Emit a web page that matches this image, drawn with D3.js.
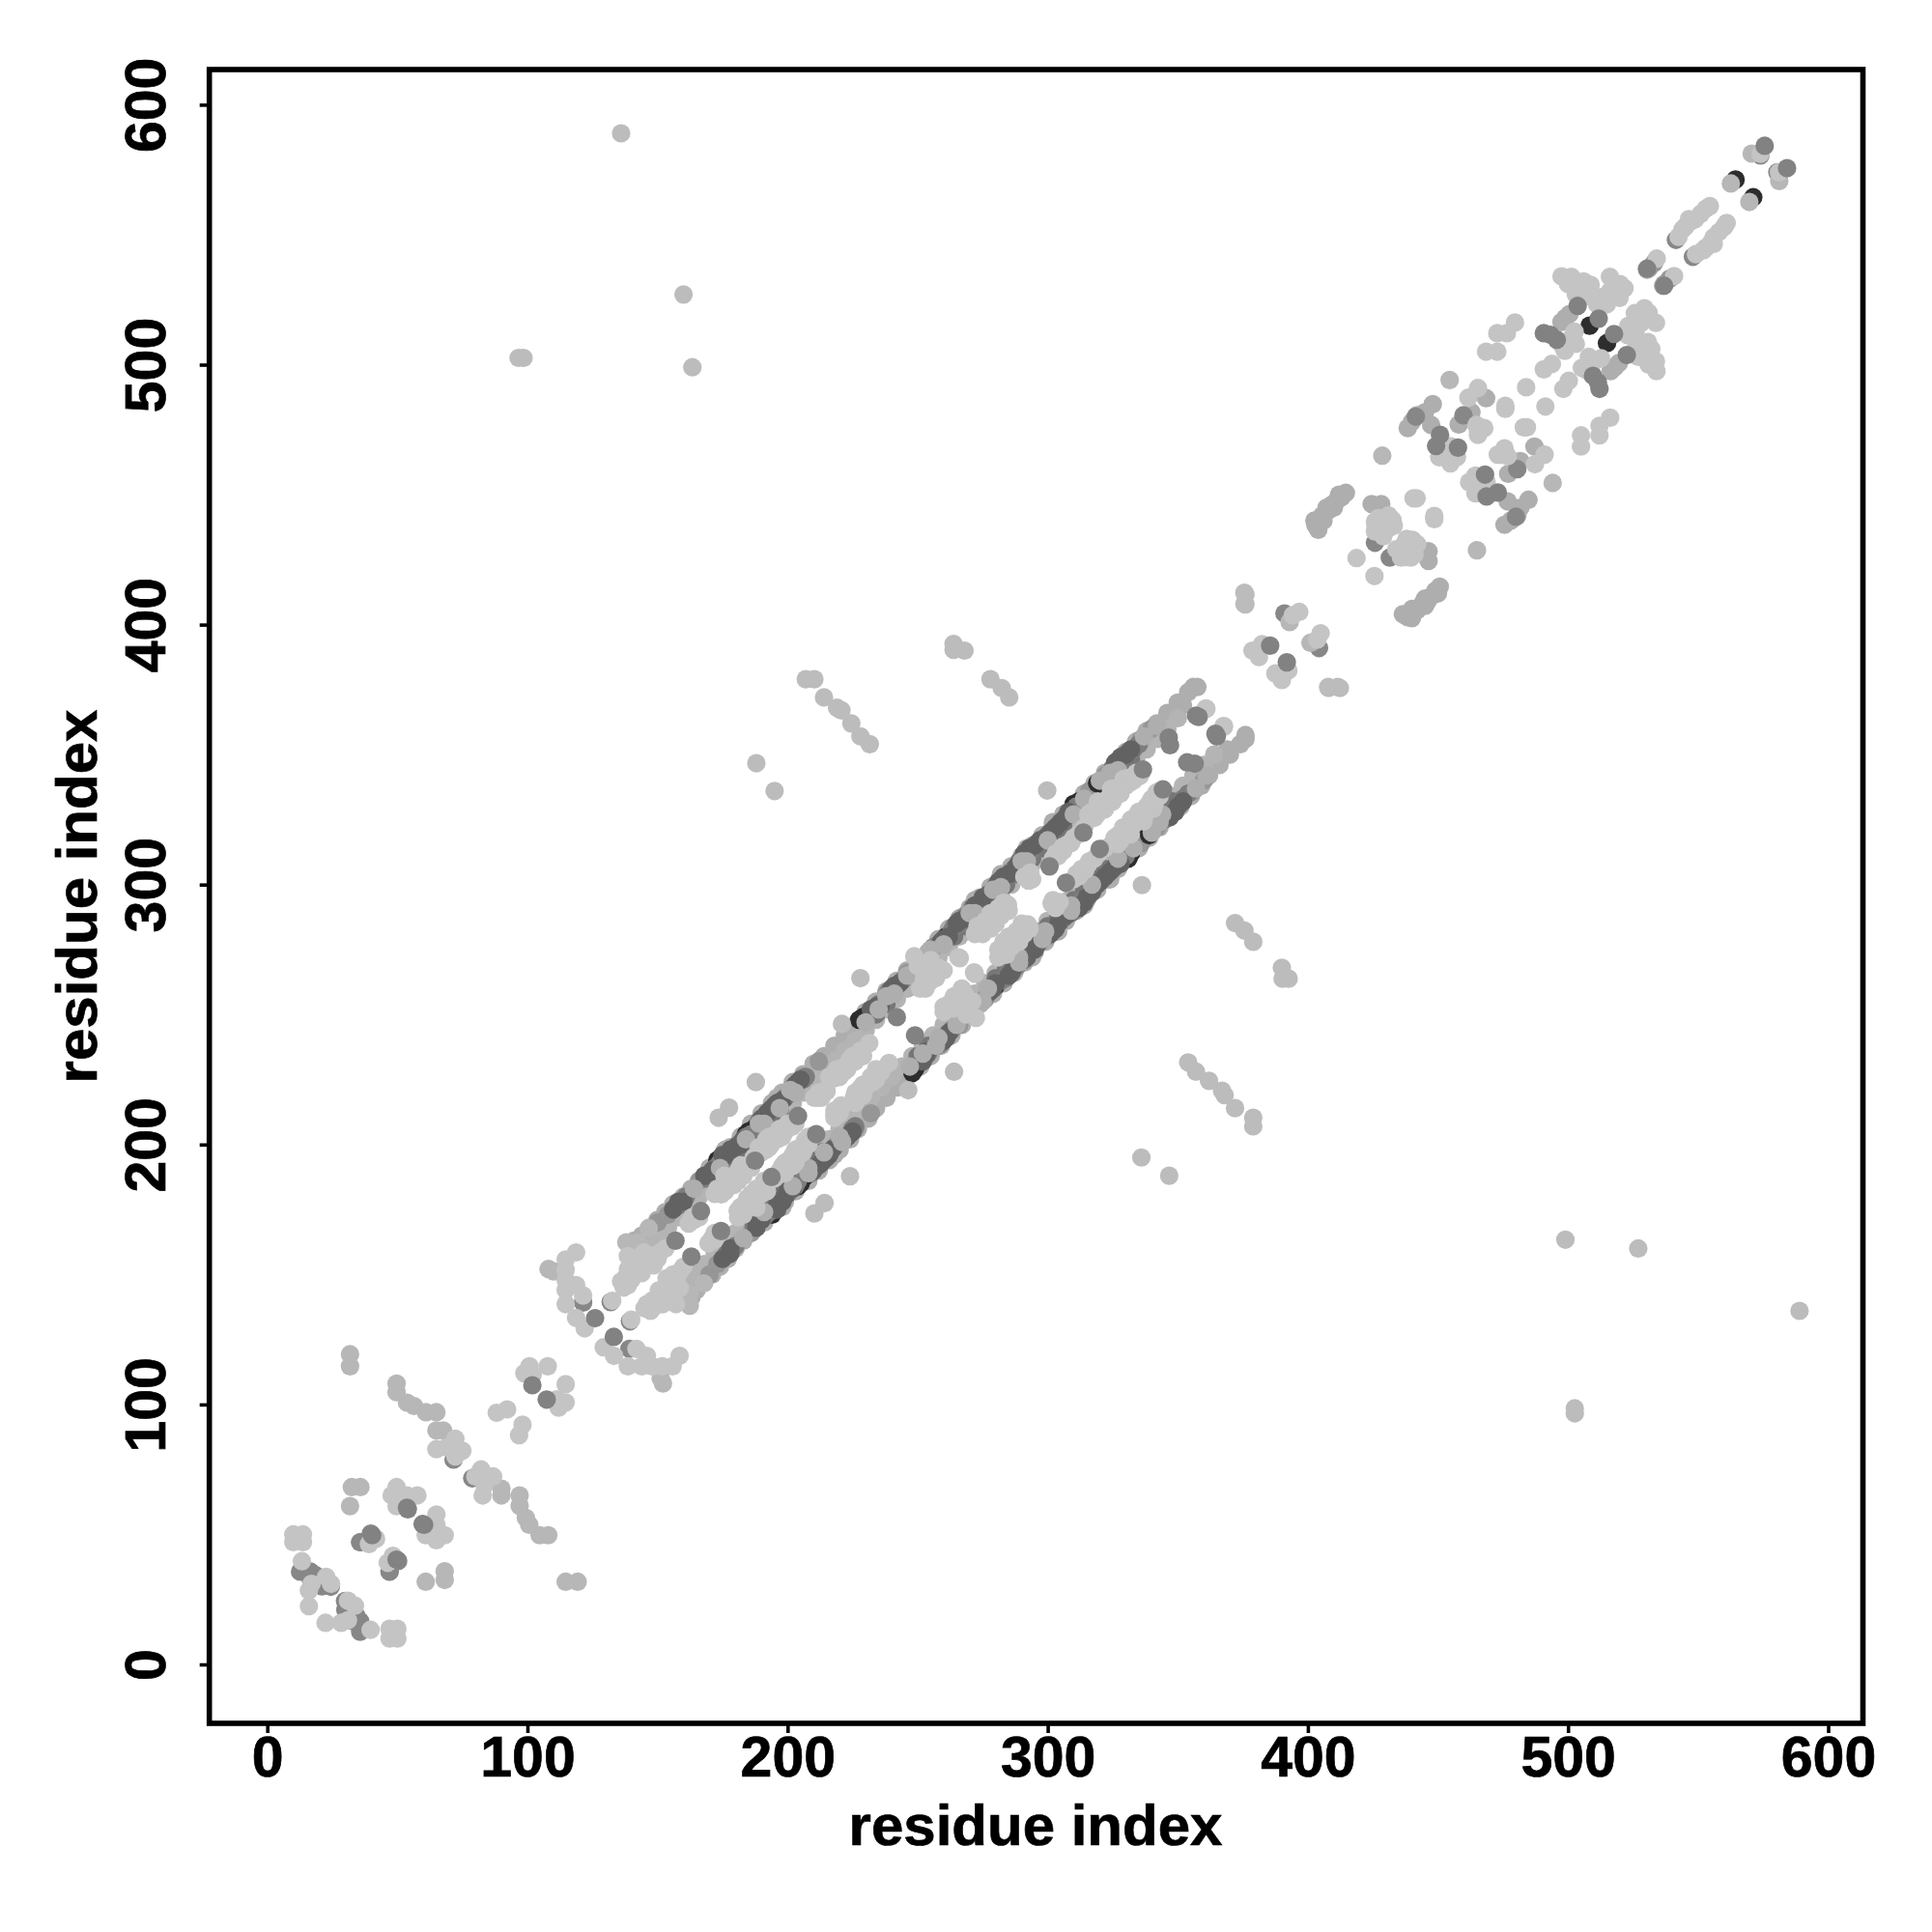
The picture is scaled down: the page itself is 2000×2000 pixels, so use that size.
<!DOCTYPE html>
<html><head><meta charset="utf-8"><style>html,body{margin:0;background:#fff}svg{display:block}</style>
<script src="https://cdn.jsdelivr.net/npm/d3@7"></script></head><body><svg id="c" width="2000" height="2000"></svg>
<script>
const xTicks=[0,100,200,300,400,500,600], yTicks=[0,100,200,300,400,500,600];
const xTitle="residue index", yTitle="residue index";
// contact pairs [i,j] with i<j; the map is symmetric so each is drawn at (i,j) and (j,i)
const strandGray=[[176,198],[186,208],[196,218],[272,294],[282,304],[292,314],[302,324],[141,163],[143,162],[144,165],[146,165],[147,168],[149,168],[150,171],[152,171],[153,174],[155,174],[156,177],[158,177],[160,180],[162,180],[163,183],[165,183],[166,186],[168,185],[170,191],[172,189],[174,194],[176,193],[178,199],[180,197],[182,203],[184,201],[186,207],[188,205],[190,212],[192,209],[194,216],[196,213],[198,220],[200,217],[202,224],[204,221],[206,227],[208,225],[210,231],[212,229],[214,234],[216,233],[218,238],[220,237],[222,242],[224,241],[226,246],[228,245],[230,251],[232,249],[234,255],[236,253],[238,259],[240,257],[242,263],[244,261],[246,267],[248,265],[250,271],[252,269],[254,274],[256,273],[258,279],[260,277],[262,283],[264,281],[266,287],[268,285],[270,291],[272,289],[274,295],[276,293],[278,299],[280,297],[282,303],[284,301],[286,307],[288,305],[290,311],[292,309],[294,315],[296,313],[298,319],[300,317],[302,323],[304,321],[306,327],[308,325],[310,331],[312,329],[314,335],[316,333],[318,339],[320,337],[322,343],[324,341],[326,347],[328,345],[330,351],[332,349],[334,355],[336,353],[338,359],[340,357],[342,362],[344,361],[346,366],[348,365],[350,370],[352,369],[354,374],[356,376],[357.5,376],[402.9,438.3],[403.5,437.5],[404,439.6],[405.5,442],[407.2,445],[409,446],[411,447.6],[413,449],[414.6,450.7],[402.5,440],[404,436.5],[406,442],[406,440],[408,444],[410,445],[412,450],[424.5,446.4],[428.2,446.4],[438.4,475.6],[440,478],[441.9,480.5],[445,481.7],[448,484.8],[447.4,476.8],[458,477],[462.9,481.7],[468.5,487.1],[497.5,516.4],[499,518],[500.6,519.5]];
const strandInner=[[146,160],[150,164],[154,168],[158,172],[162,176],[166,180],[170,184],[174,188],[178,192],[182,196],[186,200],[190,204],[194,208],[198,212],[202,216],[206,220],[210,224],[214,228],[218,232],[222,236],[226,240],[230,244],[234,248],[238,252],[242,256],[246,260],[250,264],[254,268],[258,272],[262,276],[266,280],[270,284],[274,288],[278,292],[282,296],[286,300],[290,304],[294,308],[298,312],[302,316],[306,320],[310,324],[314,328],[318,332],[322,336],[326,340],[330,344],[334,348],[338,352],[342,356],[346,360],[350,364]];
const strandMid=[[150,170],[154,173],[166,186],[200,219],[206,226],[212,232],[238,258],[246,266],[250,270],[256,276],[268,288],[280,300],[316,336],[322,342],[336,356],[340,360],[531,537],[533,539]];
const contactBlack=[[185,205],[187,206],[184,204],[175,195],[173,194],[229,249],[231,250],[227.5,248],[188,207],[310,331],[312,332],[313,332],[314.6,330.4],[323,337],[319,339],[274,282],[273,285],[261,280],[564.4,571.2],[508.3,515]];
const contactDarkInner=[[177,193],[181,197],[185,201],[189,205],[193,209],[197,213],[234,250],[238,254],[264,280],[268,284],[274,290],[278,294],[284,300],[288,304],[294,310],[298,314],[302,318],[306,322],[328,344],[332,348]];
const contactDarkSoft=[[157,176],[159,177],[161,180],[169,187],[172,191],[174,193],[176,195],[179,198],[181,200],[184,203],[186,204],[189,209],[191,210],[194,214],[197,216],[199,218],[202,222],[206,225],[207,226],[233,252],[235,254],[237,255],[239,259],[242,261],[244,263],[258,277],[261,279],[263,282],[264,284],[267,285],[269,288],[271,291],[273,292],[276,295],[278,297],[280,299],[282,302],[284,303],[286,305],[287,306],[289,309],[290,310],[292,312],[294,313],[296,316],[298,317],[300,319],[302,321],[304,323],[306,325],[309,328],[311,330],[325,345],[327,347],[329,349],[331,351],[333,352],[335,354]];
const contactDark=[[156,175],[158,178],[160,178],[168,188],[170,188],[171,190],[175,196],[177,196],[178,198],[180,199],[182,200],[183,202],[190,210],[192,212],[193,213],[195,215],[196,216],[198,217],[203,223],[204,224],[205,225],[232,252],[234,253],[236,254],[240,260],[241,261],[243,262],[259,278],[260,279],[262,280],[265,285],[266,286],[268,287],[272,292],[274,293],[275,295],[277,296],[281,301],[283,303],[285,304],[288,307],[291,312],[293,314],[295,315],[297,317],[299,318],[301,320],[303,322],[305,324],[307,326],[308,328],[326,347],[328,349],[330,350],[332,352]];
const strandOverlay=[[174,191],[184,202],[191,208],[197,214],[203,220],[230,247],[235,252],[241,258],[260,277],[272,289],[282,299],[292,309],[300,317],[310,327],[327,344],[164,183],[189,208],[201,221],[238,257],[246,265],[255,275],[270,289],[279,298],[290,309],[314,333],[320,340],[324,343],[337,357],[342,361]];
const clusterUnder=[[12.6,35.7],[16.6,35.7],[18.6,34.3],[16.6,33],[21,30],[24.4,29.9],[35.8,47],[39.8,50.3],[47,35.7],[71.6,78.8],[132,139.4],[121.4,139.2],[425.8,431.5],[459.8,480.5],[441.5,480],[541.5,548],[574,580.5],[391,404.3]];
const clusterGray=[[31.8,119.3],[31.8,114.7],[49.7,108],[49.7,104.7],[53.7,100.7],[56.4,99.4],[61,97],[65,97],[65,90],[67.6,90],[32.5,68.2],[35.8,68.2],[31.8,60.9],[108.1,152.1],[110.1,151.2],[138,162.4],[142.6,162.4],[146.6,167.8],[428.6,465],[454.5,494.1],[393,401],[530.4,536.5],[562.6,569.7],[570.6,581.2]];
const clusterLight=[[10,50],[13.7,50],[10,47],[13.7,47],[13.3,39.7],[22.6,33.7],[24.5,31],[16,28.4],[16,22.4],[17,31],[41.8,48.3],[39.1,46.3],[47.8,65],[49.7,68.2],[53.7,65],[57.7,65],[49.7,60.9],[65,82.8],[69,83.5],[72.3,86.8],[75,82.2],[72.3,80],[88.2,96.8],[92.2,98.1],[100.8,114.7],[107.8,114.7],[102,111.3],[98.8,112],[114.7,155.8],[118.7,158.5],[114.7,151.8],[114.7,147.9],[114.7,144],[114.7,138.6],[118.7,145.9],[121.4,141.9],[118.7,133.3],[122,129.3],[132.6,139.9],[138.6,157.1],[138,149.2],[138.6,145.9],[143.9,155.8],[149.9,157.8],[143.9,150.5],[136,147.3],[138.6,152],[144.8,158.5],[151,158.5],[142,153.5],[148.5,153.5],[137,145],[140,148],[141,151],[145,153],[146,156],[150,156],[153,160],[162,169.6],[163.3,172],[164,171],[166,172],[172,181],[173,183],[174.5,180.8],[175.7,184.5],[176,182],[178,186],[179.4,188],[175.7,188],[179.4,184.5],[181,186],[181,190],[182,192],[183,188],[184.4,192],[186,191],[187,195],[188,196],[190,197],[189,199],[191.8,198],[193,199],[193,203],[194,200.5],[196,202],[197,206],[198,203],[199,205],[191.8,202],[195.5,204],[200,208],[203,208],[201.7,206.8],[210.3,218],[212,220],[213,218],[214.7,221],[211.6,218],[215,220.5],[216,226],[218,227],[219,229],[220,226],[222,230],[223,229],[224,232.8],[225,234],[221.5,227.8],[226,232],[227.7,235.3],[228,236],[229,234],[217.8,225.4],[231.4,239],[252.4,261.3],[251,260],[253,260],[254,262],[255,263],[256,265],[257,264],[258,268],[254,266],[256,268],[260,267],[252.4,263.8],[250,268.7],[255,271],[248.7,272.4],[257.4,266.2],[265.7,272],[266.2,271.7],[272,281],[273,284],[274.8,282.3],[275,281],[276,286],[278,283],[278,289],[279.7,287.4],[280,285],[282,288],[283,290],[284.7,292.3],[285,290],[283,293],[281,291],[277,285],[291,303],[293,302],[294,302],[292.7,301.5],[293.3,304.6],[302,310],[303.2,312],[304,311],[305.7,314.5],[306,313],[307,315],[308.2,315.8],[309,316],[310,318],[311.9,319.5],[313,320],[314,322],[315.6,327],[316,325],[317,328],[318,325.7],[319,327],[319.3,331.9],[320,330],[321.8,329.4],[322,329],[323,333],[324.3,336.8],[325,332],[326,337],[326.7,334.4],[328,335],[329.2,340.6],[330,338],[331,341],[331.7,339.3],[333,340],[334,343],[335.4,341.8],[336,343],[360.8,367.8],[361,367.6],[378.7,390],[382.4,392.5],[381.2,387.5],[394.2,403.6],[396.7,404.9],[418.7,425.6],[425.8,439.6],[430.7,439.6],[428.2,437],[432.6,440.2],[425.8,435.8],[427,437],[429,441],[431,437],[427,441],[429,434],[433,438],[426,438],[431,442],[440.6,448.6],[441.8,448.6],[461.7,487.3],[465.4,491],[475.9,483],[475.9,484.2],[483.9,491.3],[450.5,464.4],[454.8,462],[457.3,464.4],[454.8,468.7],[465.4,473],[467.8,475.6],[464.8,476.8],[465.4,474.3],[479.6,516.2],[476.5,512.1],[472.8,512.1],[468.5,505],[472.8,505],[497.5,534],[501.3,533.8],[503.7,530.7],[508.7,530.7],[508.1,526.3],[511.2,523.2],[501.3,510.2],[502.5,512.7],[498.8,505.3],[498,507],[500,508],[503,508],[505,527],[506,532],[500,531],[503,527],[518,527],[516,528],[513,526],[520,531],[516.1,533.8],[517.4,530],[521.7,529.4],[519.8,525.7],[514.9,523.2],[511.8,523.2],[493.8,500.3],[490.7,498.2],[534.1,540.8],[542.5,549.2],[544,552],[545,553],[546.5,556],[547,555],[549,556],[551,558],[553,560],[554.5,561],[574,581.1]];
const clusterTop=[[156.9,163],[166.7,174.4],[187.5,193.8],[204,211],[242,249],[300.7,307],[313.7,320],[336.6,344.3],[346.5,356.5],[347,353.6],[357,365],[358,364.5],[53.7,60.3],[54,59.7],[49.7,40.3],[101.9,107.4],[126,133.2],[385.5,391.9],[449.3,468.7],[450.8,473],[457.7,468.1],[490.7,512.1],[493.2,511.5],[495.7,509.6],[503.7,522.6],[511.8,517.7],[530.4,536.9],[575.6,584.2]];
const strayContacts=[[136,589],[160,527],[163.4,499],[96.6,502.6],[98.5,502.6],[207,379],[210.3,379],[214,372],[219,368],[220.7,367],[224.5,362],[228,357],[231.6,354],[188,346.7],[195,336],[263.8,392.6],[263.8,390.3],[268,390],[278,379],[282.3,375.6],[285.2,372],[228,264],[187.8,224],[177.5,214.2],[173.5,210.3],[220.9,246.4],[299.8,336.2],[375.6,412.3],[375.6,408],[376,407.8],[376,411.5]];
const tierNames=["strandGray","strandInner","strandMid","contactBlack","contactDarkInner","contactDarkSoft","contactDark","strandOverlay","clusterUnder","clusterGray","clusterLight","clusterTop","strayContacts"];
const tierData=[strandGray,strandInner,strandMid,contactBlack,contactDarkInner,contactDarkSoft,contactDark,strandOverlay,clusterUnder,clusterGray,clusterLight,clusterTop,strayContacts];
const tierGrays=[174,180,150,45,118,125,98,174,135,183,196,130,188];

const svg=d3.select("#c");
const x=d3.scaleLinear().domain([0,600]).range([276.7,1892.5]);
const y=d3.scaleLinear().domain([0,600]).range([1723,108.4]);
const font='"Liberation Sans",Arial,sans-serif';

tierData.forEach((pts,k)=>{
  const both=pts.flatMap(([i,j])=>[[i,j],[j,i]]);
  const g=tierGrays[k];
  svg.append("g").attr("class",tierNames[k]).selectAll("circle").data(both).join("circle")
    .attr("cx",d=>x(d[0])).attr("cy",d=>y(d[1])).attr("r",9.6).attr("fill",d3.rgb(g,g,g));
});

svg.append("rect").attr("x",216.7).attr("y",72).attr("width",1711.8).attr("height",1712)
  .attr("fill","none").attr("stroke","#000").attr("stroke-width",5.6);

const ax=svg.append("g").attr("transform","translate(0,1784)")
  .call(d3.axisBottom(x).tickValues(xTicks).tickSize(10).tickFormat(d3.format("d")));
const ay=svg.append("g").attr("transform","translate(216.7,0)")
  .call(d3.axisLeft(y).tickValues(yTicks).tickSize(10).tickFormat(d3.format("d")));
[ax,ay].forEach(a=>{a.select(".domain").remove();a.selectAll("line").attr("stroke","#000").attr("stroke-width",3.6);
  a.selectAll("text").attr("fill","#000").attr("stroke","#000").attr("stroke-width",0.7).style("font",`bold 59px ${font}`);});
ax.selectAll("text").attr("y",55).attr("dy",0).attr("text-anchor","middle");
ay.selectAll("text").attr("x",0).attr("y",0).attr("dy",0).attr("text-anchor","middle")
  .attr("transform","translate(-46,0) rotate(-90)");

svg.append("text").attr("x",1072).attr("y",1910).attr("text-anchor","middle").attr("stroke","#000").attr("stroke-width",0.7)
  .style("font",`bold 60px ${font}`).text(xTitle);
svg.append("text").attr("transform","translate(99.5,928) rotate(-90)").attr("text-anchor","middle").attr("stroke","#000").attr("stroke-width",0.7)
  .style("font",`bold 60px ${font}`).text(yTitle);
</script></body></html>
